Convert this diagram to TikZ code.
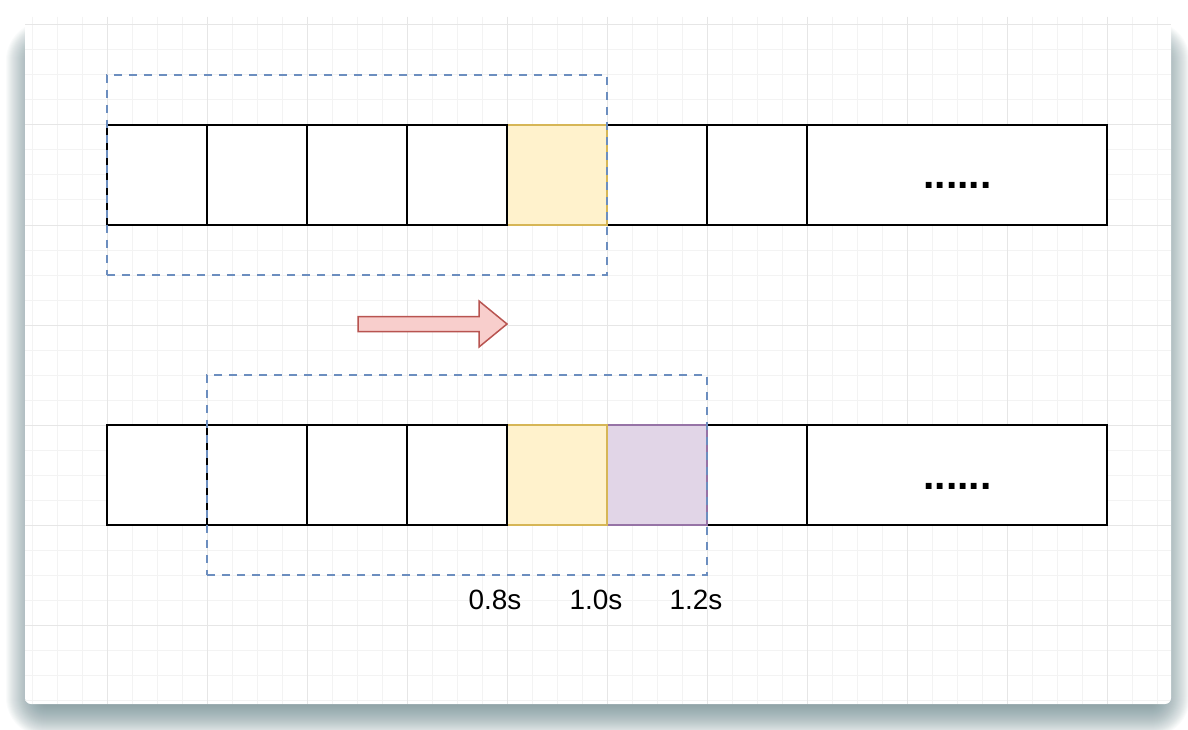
\documentclass[tikz,border=0pt]{standalone}
\usepackage{fontspec}
\setmainfont{Liberation Sans}
\definecolor{gridmaj}{HTML}{E6E6E6}
\definecolor{gridmin}{HTML}{F3F3F3}
\definecolor{winblue}{HTML}{6C8EBF}
\definecolor{yfill}{HTML}{FFF2CC}
\definecolor{ydraw}{HTML}{D6B656}
\definecolor{pfill}{HTML}{E1D5E7}
\definecolor{pdraw}{HTML}{9673A6}
\definecolor{rfill}{HTML}{F8CECC}
\definecolor{rdraw}{HTML}{B85450}
\definecolor{shadowc}{HTML}{64838A}
\begin{document}
\begin{tikzpicture}[x=1bp,y=-1bp,
  cell/.style={draw=black, line width=2.2bp, fill=white, minimum width=100bp, minimum height=100bp, inner sep=0pt, outer sep=0pt},
  bigcell/.style={cell, minimum width=300bp},
  ycell/.style={cell, draw=ydraw, fill=yfill},
  pcell/.style={cell, draw=pdraw, fill=pfill},
  window/.style={draw=winblue, line width=2bp, dash pattern=on 8bp off 7bp, minimum width=500bp, minimum height=200bp, inner sep=0pt, outer sep=0pt},
  tlabel/.style={font=\fontsize{28}{30}\selectfont, inner sep=0pt},
  dotslabel/.style={font=\bfseries\fontsize{41}{41}\selectfont, inner sep=0pt, anchor=base},
  arrowshape/.style={draw=rdraw, fill=rfill, line width=1.5bp, line join=miter}
]
\useasboundingbox (0,0) rectangle (1188,730);
\fill[white] (0,0) rectangle (1188,730);
% soft shadow of the card
\foreach \e in {-20,...,19}{
  \pgfmathsetmacro{\rr}{21+\e}
  \fill[shadowc, opacity=0.03, rounded corners=\rr bp] (25-\e,40-\e) rectangle (1171+\e,718+\e);
}
% card
\fill[white, rounded corners=6bp] (25,17) rectangle (1171,704);
% grid
\begin{scope}
  \clip[rounded corners=6bp] (25,17) rectangle (1171,704);
  \foreach \x in {32,57,...,1170} \draw[gridmin, line width=1bp] (\x,17) -- (\x,704);
  \foreach \y in {25,50,...,700} \draw[gridmin, line width=1bp] (25,\y) -- (1171,\y);
  \foreach \x in {107,207,...,1107} \draw[gridmaj, line width=1bp] (\x,17) -- (\x,704);
  \foreach \y in {25,125,...,625} \draw[gridmaj, line width=1bp] (25,\y) -- (1171,\y);
\end{scope}
% top row
\node[cell] (t1) at (157,175) {};
\node[cell] (t2) at (257,175) {};
\node[cell] (t3) at (357,175) {};
\node[cell] (t6) at (657,175) {};
\node[cell] (t7) at (757,175) {};
\node[bigcell] (t8) at (957,175) {};
\node[ycell] (t5) at (557,175) {};
\node[cell] (t4) at (457,175) {};
\node[dotslabel] (tdots) at (957.5,189) {......};
% bottom row
\node[cell] (b1) at (157,475) {};
\node[cell] (b2) at (257,475) {};
\node[cell] (b3) at (357,475) {};
\node[cell] (b7) at (757,475) {};
\node[bigcell] (b8) at (957,475) {};
\node[pcell] (b6) at (657,475) {};
\node[ycell] (b5) at (557,475) {};
\node[cell] (b4) at (457,475) {};
\node[dotslabel] (bdots) at (957.5,489) {......};
% windows
\node[window] (wtop) at (357,175) {};
\node[window] (wbot) at (457,475) {};
% arrow
\draw[arrowshape] (358,316.5) -- (479,316.5) -- (479,301) -- (507,324) -- (479,347) -- (479,331.5) -- (358,331.5) -- cycle;
% labels
\node[tlabel] (l08) at (495,600) {0.8s};
\node[tlabel] (l10) at (596,600) {1.0s};
\node[tlabel] (l12) at (696,600) {1.2s};
\end{tikzpicture}
\end{document}
